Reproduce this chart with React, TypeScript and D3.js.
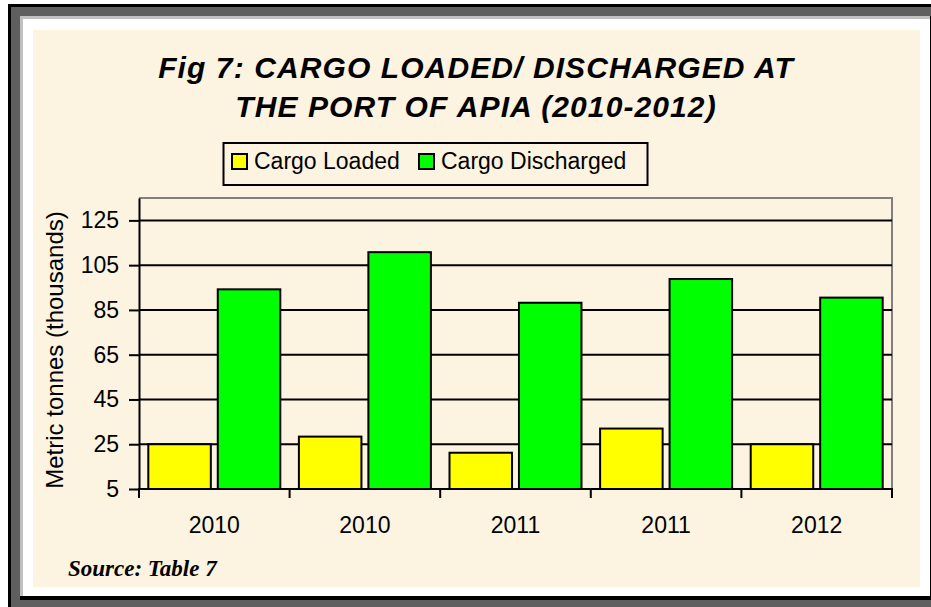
import React, { useEffect, useRef } from 'react';
import * as d3 from 'd3';

// chart data
const years = ['2010', '2010', '2011', '2011', '2012'];
const cargoLoaded = [25, 28.4, 21.2, 32, 25];
const cargoDischarged = [94.2, 110.8, 88.2, 98.8, 90.5];
const seriesNames = ['Cargo Loaded', 'Cargo Discharged'];
const seriesColors = ['#ffff00', '#00ff00'];
const yTicks = [5, 25, 45, 65, 85, 105, 125];

const W = 931;
const H = 607;
const SANS = '"Liberation Sans", Arial, sans-serif';
const SERIF = '"Liberation Serif", "Times New Roman", serif';
const BEIGE = '#fcf3e0';

const App = () => {
  const ref = useRef<SVGSVGElement | null>(null);

  useEffect(() => {
    const svg = d3.select(ref.current);
    svg.selectAll('*').remove();

    // marco con bordes
    svg.append('rect').attr('width', W).attr('height', H).attr('fill', '#fff');
    svg.append('rect').attr('x', 8).attr('y', 4).attr('width', W - 8).attr('height', H - 4).attr('fill', '#000');
    svg.append('rect').attr('x', 11).attr('y', 7).attr('width', W - 11).attr('height', H - 7).attr('fill', '#5f5f5f');
    svg.append('rect').attr('x', 20).attr('y', 16).attr('width', W - 20).attr('height', 584).attr('fill', '#000');
    svg.append('rect').attr('x', 20).attr('y', 16).attr('width', 910).attr('height', 580).attr('fill', '#c0c0c0');
    svg.append('rect').attr('x', 23).attr('y', 19).attr('width', 907).attr('height', 577).attr('fill', '#fff');
    svg.append('rect').attr('x', 33).attr('y', 30).attr('width', 887).attr('height', 557).attr('fill', BEIGE);

    // escalas
    const left = 139;
    const right = 892;
    const top = 198;
    const bottom = 489;

    const x0 = d3
      .scaleBand<number>()
      .domain(years.map((_, i) => i))
      .range([left, right])
      .padding(0);

    const x1 = d3
      .scaleBand<number>()
      .domain([0, 1])
      .range([0, x0.bandwidth()])
      .paddingInner(0.1)
      .paddingOuter(0.134);

    const y = d3.scaleLinear().domain([5, 135]).range([bottom, top]);

    // borde del area de trazado
    svg
      .append('path')
      .attr('d', `M${left},${top}H${right}V${bottom}`)
      .attr('fill', 'none')
      .attr('stroke', '#808080')
      .attr('stroke-width', 2);

    // lineas de cuadricula
    svg
      .append('g')
      .selectAll('line')
      .data(yTicks.slice(1))
      .enter()
      .append('line')
      .attr('x1', left)
      .attr('x2', right)
      .attr('y1', d => y(d))
      .attr('y2', d => y(d))
      .attr('stroke', '#000')
      .attr('stroke-width', 2);

    // barras
    const groups = svg
      .append('g')
      .selectAll('g')
      .data(years.map((_, i) => i))
      .enter()
      .append('g')
      .attr('transform', i => `translate(${x0(i)},0)`);

    groups
      .selectAll('rect')
      .data(i => [cargoLoaded[i], cargoDischarged[i]])
      .enter()
      .append('rect')
      .attr('x', (_, j) => x1(j) as number)
      .attr('y', d => y(d))
      .attr('width', x1.bandwidth())
      .attr('height', d => bottom - y(d))
      .attr('fill', (_, j) => seriesColors[j])
      .attr('stroke', '#000')
      .attr('stroke-width', 2);

    // eje y
    const yAxis = svg
      .append('g')
      .attr('transform', `translate(${left},0)`)
      .call(d3.axisLeft(y).tickValues(yTicks).tickSize(10).tickSizeOuter(0).tickPadding(10));
    yAxis.select('.domain').attr('stroke', '#000').attr('stroke-width', 2);
    yAxis.selectAll('.tick line').attr('stroke', '#000').attr('stroke-width', 2);
    yAxis
      .selectAll('.tick text')
      .style('font-family', SANS)
      .style('font-size', '23px')
      .attr('fill', '#000');

    // eje x
    const xAxis = svg
      .append('g')
      .attr('transform', `translate(0,${bottom})`)
      .call(
        d3
          .axisBottom(x0)
          .tickSize(0)
          .tickSizeOuter(0)
          .tickFormat(i => years[i as number])
      );
    xAxis.select('.domain').remove();
    xAxis
      .selectAll('.tick text')
      .attr('y', 44)
      .attr('dy', 0)
      .style('font-family', SANS)
      .style('font-size', '23px')
      .attr('fill', '#000');

    svg
      .append('line')
      .attr('x1', left - 1)
      .attr('x2', right + 1)
      .attr('y1', bottom)
      .attr('y2', bottom)
      .attr('stroke', '#000')
      .attr('stroke-width', 2);

    const bounds = years.map((_, i) => x0(i) as number).concat([right]);
    svg
      .append('g')
      .selectAll('line')
      .data(bounds)
      .enter()
      .append('line')
      .attr('x1', d => d)
      .attr('x2', d => d)
      .attr('y1', bottom)
      .attr('y2', bottom + 9)
      .attr('stroke', '#000')
      .attr('stroke-width', 2);

    // titulo del eje y
    svg
      .append('text')
      .attr('transform', `translate(63,350) rotate(-90)`)
      .attr('text-anchor', 'middle')
      .style('font-family', SANS)
      .style('font-size', '24px')
      .text('Metric tonnes (thousands)');

    // titulo
    const title = ['Fig 7: CARGO LOADED/ DISCHARGED AT', 'THE PORT OF APIA (2010-2012)'];
    svg
      .selectAll('.title')
      .data(title)
      .enter()
      .append('text')
      .attr('class', 'title')
      .attr('x', 476)
      .attr('y', (_, i) => 78 + i * 39)
      .attr('text-anchor', 'middle')
      .style('font-family', SANS)
      .style('font-size', '30px')
      .style('font-weight', 'bold')
      .style('font-style', 'italic')
      .style('letter-spacing', '1.1px')
      .text(d => d);

    // leyenda
    svg
      .append('rect')
      .attr('x', 223.5)
      .attr('y', 143)
      .attr('width', 424)
      .attr('height', 42)
      .attr('fill', BEIGE)
      .attr('stroke', '#000')
      .attr('stroke-width', 2);

    const legendX = [232, 419];
    const legend = svg
      .append('g')
      .selectAll('g')
      .data(seriesNames)
      .enter()
      .append('g')
      .attr('transform', (_, i) => `translate(${legendX[i]},154)`);

    legend
      .append('rect')
      .attr('width', 15)
      .attr('height', 15)
      .attr('fill', (_, i) => seriesColors[i])
      .attr('stroke', '#000')
      .attr('stroke-width', 2);

    legend
      .append('text')
      .attr('x', 22)
      .attr('y', 15)
      .style('font-family', SANS)
      .style('font-size', '23px')
      .text(d => d);

    // fuente
    svg
      .append('text')
      .attr('x', 68)
      .attr('y', 576)
      .style('font-family', SERIF)
      .style('font-size', '23px')
      .style('font-weight', 'bold')
      .style('font-style', 'italic')
      .text('Source: Table 7');
  }, []);

  return (
    <svg
      ref={ref}
      width={W}
      height={H}
      style={{ position: 'absolute', left: 0, top: 0, display: 'block' }}
    />
  );
};

export default App;
